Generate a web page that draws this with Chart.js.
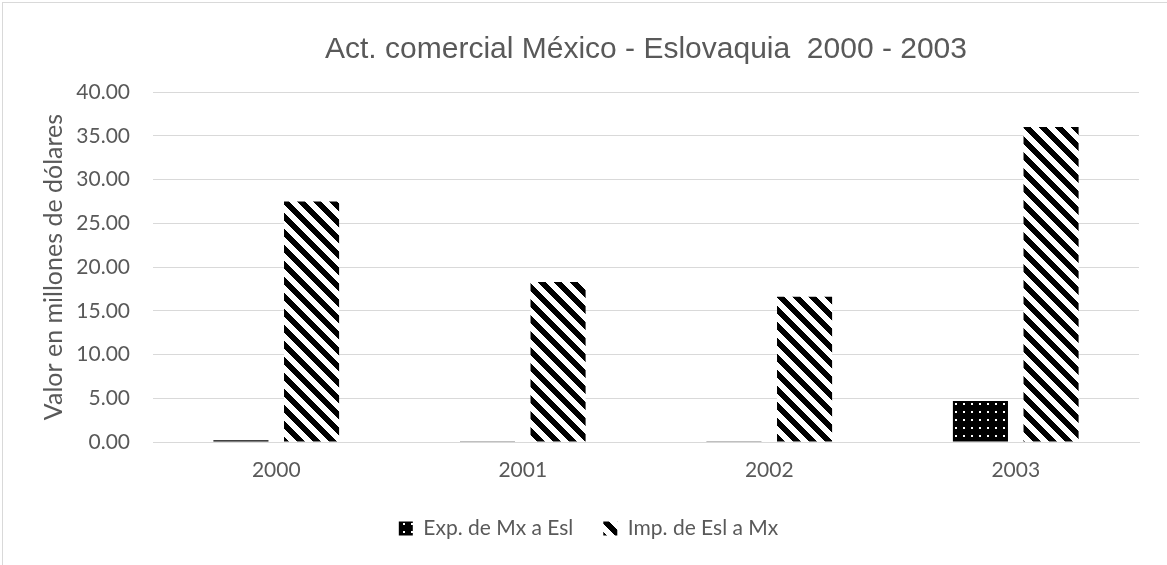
<!DOCTYPE html>
<html>
<head>
<meta charset="utf-8">
<script src="https://cdn.jsdelivr.net/npm/chart.js@4.4.1/dist/chart.umd.min.js"></script>
<style>
  html, body { margin: 0; padding: 0; background: #fff; }
  #wrap { position: relative; width: 1167px; height: 565px; overflow: hidden; }
  #frame { position: absolute; left: 2px; top: 2px; width: 1180px; height: 580px; border: 1px solid #d9d9d9; box-sizing: border-box; }
  canvas { position: absolute; left: 0; top: 0; }
</style>
</head>
<body>
<div id="wrap">
  <div id="frame"></div>
  <canvas id="chart" width="1167" height="565"></canvas>
</div>
<script>
const years = ['2000', '2001', '2002', '2003'];
const exportsMx = [0.2, 0.03, 0.03, 4.7];
const importsEsl = [27.5, 18.3, 16.6, 36.0];
const seriesNames = ['Exp. de Mx a Esl', 'Imp. de Esl a Mx'];

const textColor = '#595959';

// black tile with small white dots
function dotPattern() {
  const c = document.createElement('canvas');
  c.width = 8; c.height = 8;
  const g = c.getContext('2d');
  g.fillStyle = '#000';
  g.fillRect(0, 0, 8, 8);
  g.fillStyle = '#fff';
  g.fillRect(3, 3, 2, 2);
  return g.createPattern(c, 'repeat');
}

// wide downward diagonal stripes
function stripePattern() {
  const n = 16;
  const c = document.createElement('canvas');
  c.width = n; c.height = n;
  const g = c.getContext('2d');
  g.fillStyle = '#fff';
  g.fillRect(0, 0, n, n);
  g.fillStyle = '#000';
  for (let y = 0; y < n; y++) {
    for (let x = 0; x < n; x++) {
      if (((x - y) % n + n) % n < 8) g.fillRect(x, y, 1, 1);
    }
  }
  return g.createPattern(c, 'repeat');
}

// title centred over the plot area, legend nudged a bit right
const placeBlocks = {
  id: 'placeBlocks',
  afterLayout(chart) {
    const t = chart.titleBlock;
    if (t) {
      t.left = chart.chartArea.left;
      t.right = chart.chartArea.right;
      t.width = t.right - t.left;
    }
    const l = chart.legend;
    if (l) {
      l.left += 9;
      l.right += 9;
    }
  }
};

const ctx = document.getElementById('chart').getContext('2d');
new Chart(ctx, {
  type: 'bar',
  data: {
    labels: years,
    datasets: [
      { label: seriesNames[0], data: exportsMx, backgroundColor: dotPattern(), borderWidth: 0 },
      { label: seriesNames[1], data: importsEsl, backgroundColor: stripePattern(), borderWidth: 0 }
    ]
  },
  plugins: [placeBlocks],
  options: {
    responsive: false,
    animation: false,
    datasets: { bar: { categoryPercentage: 0.573, barPercentage: 0.78 } },
    layout: { padding: { left: 20, right: 28, top: 0, bottom: 16 } },
    plugins: {
      title: {
        display: true,
        text: 'Act. comercial México - Eslovaquia  2000 - 2003',
        color: textColor,
        font: { family: 'Liberation Sans', size: 30, weight: 'normal' },
        padding: { top: 32, bottom: 24 }
      },
      legend: {
        position: 'bottom',
        labels: {
          color: textColor,
          font: { family: 'Lato', size: 21 },
          boxWidth: 14,
          boxHeight: 14,
          padding: 30
        }
      },
      tooltip: { enabled: false }
    },
    scales: {
      x: {
        grid: { display: false, drawTicks: false },
        border: { color: '#d9d9d9' },
        ticks: { color: textColor, font: { family: 'Lato', size: 21 }, padding: 16 },
        afterFit: (s) => { s.height = 46; }
      },
      y: {
        min: 0,
        max: 40,
        ticks: {
          stepSize: 5,
          color: textColor,
          font: { family: 'Lato', size: 21 },
          padding: 23,
          callback: (v) => v.toFixed(2)
        },
        grid: { color: '#d9d9d9', drawTicks: false },
        border: { display: false },
        title: {
          display: true,
          text: 'Valor en millones de dólares',
          color: textColor,
          font: { family: 'Lato', size: 25 },
          padding: { top: 19, bottom: 0 }
        },
        afterFit: (s) => { s.width = 133; }
      }
    }
  }
});
</script>
</body>
</html>
